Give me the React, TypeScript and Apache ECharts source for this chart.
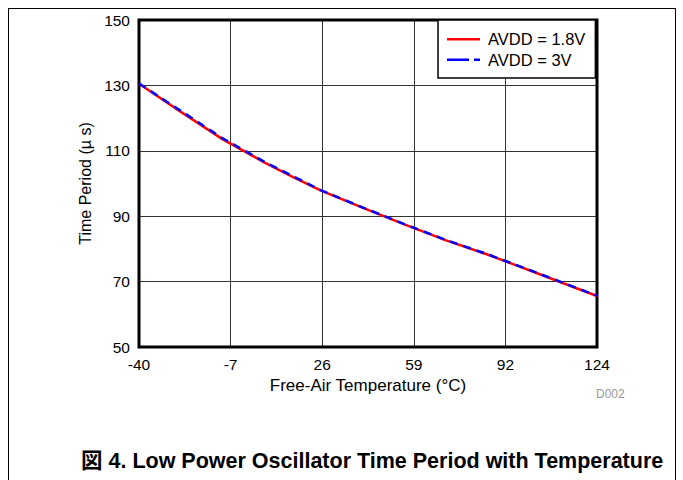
import React, { useEffect, useRef } from "react";
import * as echarts from "echarts";

const temps = [-40, -25, -10, 5, 15, 25, 40, 55, 70, 85, 100, 115, 124];
const avdd18 = [130.5, 121.9, 113.5, 106.4, 102.0, 97.9, 92.6, 87.5, 82.6, 78.2, 73.4, 68.5, 65.6];
const avdd3 = [130.6, 122.2, 113.8, 106.6, 102.3, 98.0, 92.7, 87.6, 82.7, 78.3, 73.5, 68.6, 65.7];
const xTickLabels = ["-40", "-7", "26", "59", "92", "124"];
const seriesNames = ["AVDD = 1.8V", "AVDD = 3V"];
const caption = "図 4. Low Power Oscillator Time Period with Temperature";

const FONT = "'Liberation Sans', Arial, 'Noto Sans CJK JP', sans-serif";

export default function App() {
  const ref = useRef<HTMLDivElement>(null);
  useEffect(() => {
    if (!ref.current) return;
    const chart = echarts.init(ref.current, undefined, { renderer: "svg" });
    const gridLeft = 139, gridTop = 20, gridW = 458, gridH = 327;
    chart.setOption({
      animation: false,
      backgroundColor: "#fff",
      textStyle: { fontFamily: FONT },
      grid: {
        left: gridLeft, top: gridTop, width: gridW, height: gridH,
        show: true, borderColor: "#000", borderWidth: 3, backgroundColor: "transparent", z: 3,
      },
      legend: {
        show: true,
        left: 438, top: 20, orient: "vertical",
        backgroundColor: "#fff", borderColor: "#000", borderWidth: 1.5, borderRadius: 0,
        padding: [11, 10, 10, 9], itemGap: 4, itemWidth: 33, itemHeight: 16,
        textStyle: { fontFamily: FONT, fontSize: 16.5, color: "#000", padding: [0, 0, 0, 3] },
        data: [
          { name: seriesNames[0], icon: "path://M0,0H33V2.5H0Z", itemStyle: { color: "#ff0000" } },
          { name: seriesNames[1], icon: "path://M0,0H22V2.5H0ZM27,0H33V2.5H27Z", itemStyle: { color: "#0000ff" } },
        ],
        z: 10,
      },
      xAxis: {
        type: "value", min: -40, max: 124, interval: 32.8,
        axisLine: { show: false }, axisTick: { show: false },
        splitLine: { show: true, lineStyle: { color: "#333", width: 1 } },
        axisLabel: {
          color: "#000", fontSize: 15.5, fontFamily: FONT, margin: 10,
          formatter: (_v: number, i: number) => xTickLabels[i] ?? "",
        },
        name: "Free-Air Temperature (°C)", nameLocation: "middle", nameGap: 28,
        nameTextStyle: { color: "#000", fontSize: 17, fontFamily: FONT },
      },
      yAxis: {
        type: "value", min: 50, max: 150, interval: 20,
        axisLine: { show: false }, axisTick: { show: false },
        splitLine: { show: true, lineStyle: { color: "#333", width: 1 } },
        axisLabel: { color: "#000", fontSize: 15.5, fontFamily: FONT, margin: 9 },
        name: "Time Period (µ s)", nameLocation: "middle", nameGap: 38,
        nameTextStyle: { color: "#000", fontSize: 16, fontFamily: FONT },
      },
      series: [
        {
          name: seriesNames[0], type: "line", showSymbol: false, symbol: "none",
          data: temps.map((t, i) => [t, avdd18[i]]),
          lineStyle: { color: "#ff0000", width: 2.5 }, itemStyle: { color: "#ff0000" }, z: 4,
        },
        {
          name: seriesNames[1], type: "line", showSymbol: false, symbol: "none",
          data: temps.map((t, i) => [t, avdd3[i]]),
          lineStyle: { color: "#0000ff", width: 2.5, type: [8, 6] }, itemStyle: { color: "#0000ff" }, z: 5,
        },
      ],
      graphic: [
        { type: "line", shape: { x1: 8.5, y1: 8, x2: 8.5, y2: 480 }, style: { stroke: "#000", lineWidth: 1 } },
        { type: "line", shape: { x1: 8, y1: 8.5, x2: 676, y2: 8.5 }, style: { stroke: "#000", lineWidth: 1 } },
        { type: "line", shape: { x1: 675.5, y1: 8, x2: 675.5, y2: 480 }, style: { stroke: "#000", lineWidth: 1 } },
        { type: "text", left: 596, top: 388, style: { text: "D002", fontSize: 12, fill: "#999", fontFamily: FONT } },
        { type: "text", left: 81, top: 450, style: { text: caption, fontSize: 21.5, fontWeight: "bold", fill: "#000", fontFamily: FONT } },
      ],
    });
    return () => chart.dispose();
  }, []);
  return <div ref={ref} style={{ position: "fixed", left: 0, top: 0, width: 683, height: 480 }} />;
}
